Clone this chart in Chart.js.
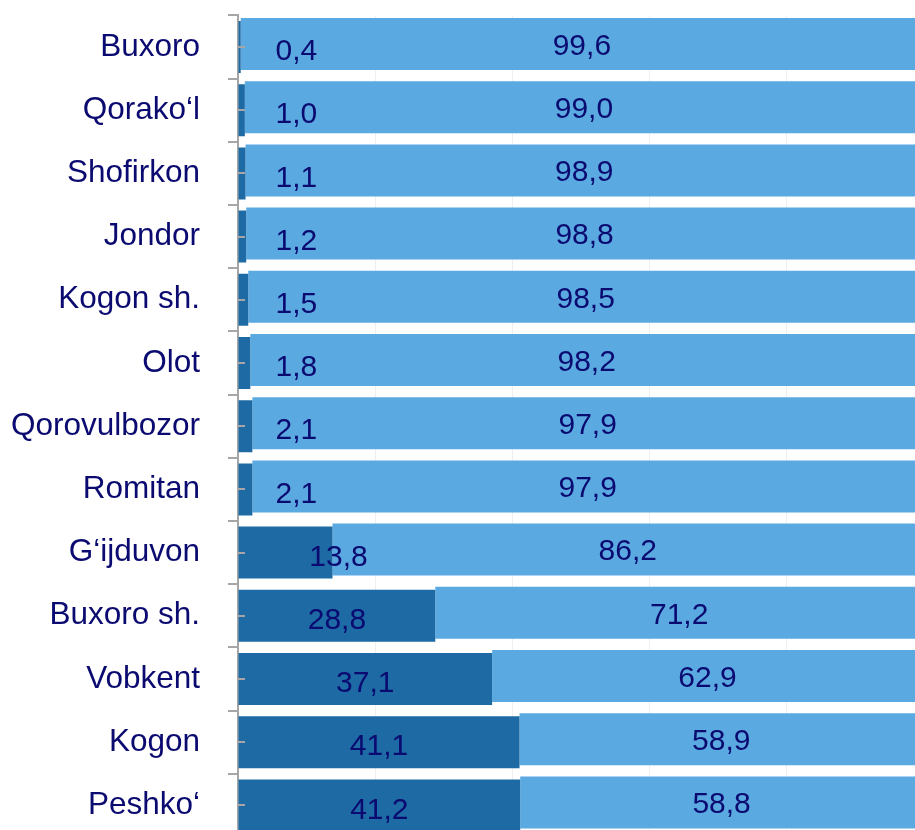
<!DOCTYPE html>
<html>
<head>
<meta charset="utf-8">
<script src="https://cdn.jsdelivr.net/npm/chart.js@4.4.1/dist/chart.umd.min.js"></script>
<style>
  html, body { margin: 0; padding: 0; background: #ffffff; overflow: hidden; width: 915px; height: 830px; }
  #wrap { position: absolute; left: 0; top: 0; width: 923px; height: 837px; }
</style>
</head>
<body>
<div id="wrap"><canvas id="c" width="923" height="837"></canvas></div>
<script>
const categories = ['Buxoro', 'Qorako‘l', 'Shofirkon', 'Jondor', 'Kogon sh.', 'Olot', 'Qorovulbozor', 'Romitan', 'G‘ijduvon', 'Buxoro sh.', 'Vobkent', 'Kogon', 'Peshko‘'];
const darkValues = [0.4, 1.0, 1.1, 1.2, 1.5, 1.8, 2.1, 2.1, 13.8, 28.8, 37.1, 41.1, 41.2];
const lightValues = [99.6, 99.0, 98.9, 98.8, 98.5, 98.2, 97.9, 97.9, 86.2, 71.2, 62.9, 58.9, 58.8];
const gridValues = [0, 20, 40, 60, 80, 100];

const TEXT = '#0A0A70';
const DARK = '#1D6AA4';
const LIGHT = '#5AAAE1';
const AXIS = '#A6A6A6';
const FONT = 'Arial, "Liberation Sans", sans-serif';
const VAL_SIZE = 30;

const fmt = v => v.toFixed(1).replace('.', ',');

const shiftPlugin = {
  id: 'shiftLight',
  beforeDatasetDraw(chart, args) {
    if (args.index === 1) { chart.ctx.save(); chart.ctx.translate(0, -3); }
  },
  afterDatasetDraw(chart, args) {
    if (args.index === 1) { chart.ctx.restore(); }
  }
};

const labelPlugin = {
  id: 'valueLabels',
  afterDatasetsDraw(chart) {
    const ctx = chart.ctx;
    const area = chart.chartArea;
    ctx.save();
    ctx.font = VAL_SIZE + 'px ' + FONT;
    ctx.fillStyle = TEXT;
    ctx.textAlign = 'center';
    ctx.textBaseline = 'alphabetic';
    const half = 0.358 * VAL_SIZE;
    chart.data.datasets.forEach((ds, di) => {
      const meta = chart.getDatasetMeta(di);
      meta.data.forEach((el, i) => {
        const txt = fmt(ds.data[i]);
        const tw = ctx.measureText(txt).width;
        const start = Math.min(el.base, el.x);
        const end = Math.max(el.base, el.x);
        let cx = (start + end) / 2;
        let cy;
        if (di === 0) {
          cy = el.y + 2.5;
          if ((end - start) < 2 * tw) cx = Math.max(end + 6, area.left + 1.4 * tw);
        } else {
          cy = el.y - 3;
        }
        ctx.fillText(txt, cx, cy + half);
      });
    });
    // minor ticks at category centres on the axis
    const ys = chart.scales.y;
    ctx.strokeStyle = AXIS;
    ctx.lineWidth = 2;
    categories.forEach((c, i) => {
      const y = Math.round(ys.getPixelForValue(i));
      ctx.beginPath();
      ctx.moveTo(area.left, y);
      ctx.lineTo(area.left + 7, y);
      ctx.stroke();
    });
    ctx.restore();
  }
};

new Chart(document.getElementById('c'), {
  type: 'bar',
  data: {
    labels: categories,
    datasets: [
      { data: darkValues, backgroundColor: DARK, borderWidth: 0, categoryPercentage: 1, barPercentage: 0.823 },
      { data: lightValues, backgroundColor: LIGHT, borderWidth: 0, categoryPercentage: 1, barPercentage: 0.823 }
    ]
  },
  options: {
    indexAxis: 'y',
    responsive: false,
    devicePixelRatio: 1,
    animation: false,
    layout: { padding: { top: 15.4, left: 0, right: 0, bottom: 0 } },
    plugins: { legend: { display: false }, tooltip: { enabled: false } },
    scales: {
      x: {
        stacked: true,
        min: 0,
        max: 100,
        afterBuildTicks(s) { s.ticks = gridValues.map(v => ({ value: v })); },
        ticks: { display: false },
        border: { display: false },
        grid: { color: '#EFEFEF', lineWidth: 1, drawTicks: false },
        afterFit(s) { s.height = 0; s.paddingLeft = 0; s.paddingRight = 0; }
      },
      y: {
        stacked: true,
        offset: true,
        ticks: { color: TEXT, font: { family: FONT, size: 31.5 }, padding: 28 },
        grid: { display: true, offset: true, drawOnChartArea: false, drawTicks: true, tickLength: 10, color: AXIS, lineWidth: 2 },
        border: { display: true, color: AXIS, width: 2 },
        afterFit(s) { s.width = 238; s.paddingTop = 0; s.paddingBottom = 0; }
      }
    }
  },
  plugins: [shiftPlugin, labelPlugin]
});
</script>
</body>
</html>
